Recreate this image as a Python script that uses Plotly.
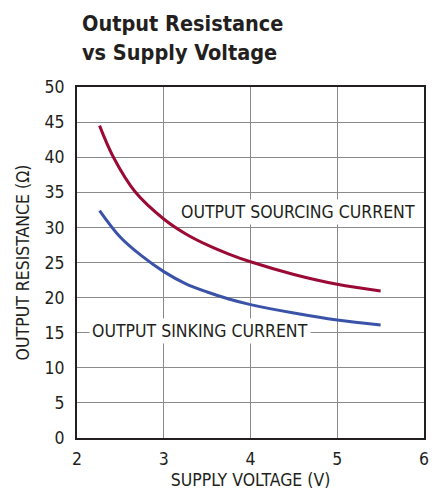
import plotly.graph_objects as go

# Supply voltage (V) and output resistance (ohms) for each output mode
v_sourcing = [2.26, 2.42, 2.675, 3.0, 3.25, 3.5, 3.75, 4.0, 4.5, 5.0, 5.5]
r_sourcing = [44.5, 40.0, 35.0, 31.2, 29.1, 27.5, 26.2, 25.1, 23.3, 21.9, 20.95]

v_sinking = [2.26, 2.5, 2.75, 3.0, 3.25, 3.5, 3.75, 4.0, 4.5, 5.0, 5.5]
r_sinking = [32.4, 28.6, 25.9, 23.7, 22.0, 20.8, 19.8, 19.0, 17.8, 16.8, 16.1]

x_ticks = [2, 3, 4, 5, 6]
y_ticks = [0, 5, 10, 15, 20, 25, 30, 35, 40, 45, 50]

FONT = "DejaVu Sans Condensed, Liberation Sans Narrow, sans-serif"
INK = "#231f20"

fig = go.Figure()
fig.add_trace(go.Scatter(x=v_sourcing, y=r_sourcing, mode="lines",
                         line=dict(color="#9b0a35", width=3, shape="spline", smoothing=1.0),
                         showlegend=False, hoverinfo="skip"))
fig.add_trace(go.Scatter(x=v_sinking, y=r_sinking, mode="lines",
                         line=dict(color="#3a53a8", width=3, shape="spline", smoothing=1.0),
                         showlegend=False, hoverinfo="skip"))

fig.add_annotation(x=3.16, y=32.2, text="OUTPUT SOURCING CURRENT", showarrow=False,
                   xanchor="left", yanchor="middle", bgcolor="white", borderpad=2,
                   font=dict(family=FONT, size=17.5, color=INK))
fig.add_annotation(x=2.14, y=15.3, text="OUTPUT SINKING CURRENT", showarrow=False,
                   xanchor="left", yanchor="middle", bgcolor="white", borderpad=2,
                   font=dict(family=FONT, size=17.5, color=INK))

# Two-line bold heading above the plot
for label, ypos in (("Output Resistance", 1.182), ("vs Supply Voltage", 1.097)):
    fig.add_annotation(xref="paper", yref="paper", x=3 / 352, y=ypos, text=f"<b>{label}</b>",
                       showarrow=False, xanchor="left", yanchor="middle",
                       font=dict(family=FONT, size=21.5, color=INK))

fig.update_layout(
    width=435, height=493,
    margin=dict(l=77, r=6, t=87, b=55),
    paper_bgcolor="white", plot_bgcolor="white",
    font=dict(family=FONT, size=17.5, color=INK),
)
fig.update_xaxes(range=[2, 6], tickvals=x_ticks, showgrid=True, gridcolor="#8a8a8a", gridwidth=1,
                 showline=True, linecolor=INK, linewidth=2, mirror=True, zeroline=False,
                 ticks="", ticklabelstandoff=4,
                 title=dict(text="SUPPLY VOLTAGE (V)", standoff=6,
                            font=dict(family=FONT, size=17.5)))
fig.update_yaxes(range=[0, 50], tickvals=y_ticks, showgrid=True, gridcolor="#8a8a8a", gridwidth=1,
                 showline=True, linecolor=INK, linewidth=2, mirror=True, zeroline=False,
                 ticks="", ticklabelstandoff=7,
                 title=dict(text="OUTPUT RESISTANCE (Ω)", standoff=10,
                            font=dict(family=FONT, size=17.5)))

fig.write_html("out.html")
